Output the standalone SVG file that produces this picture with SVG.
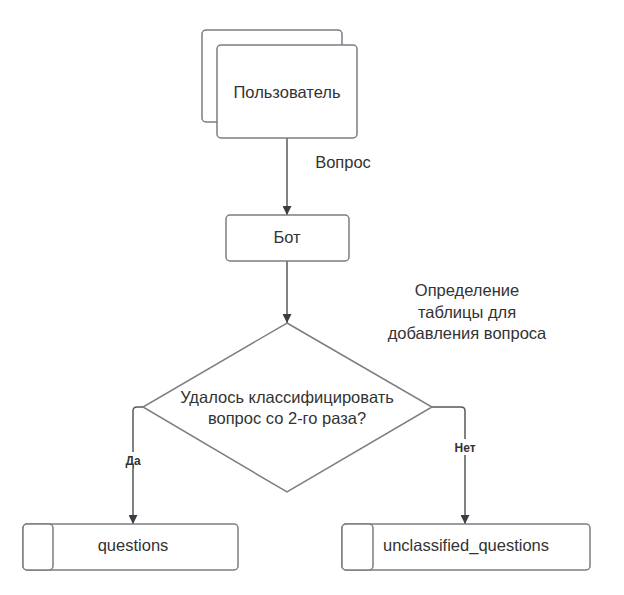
<svg xmlns="http://www.w3.org/2000/svg" width="624" height="595" viewBox="0 0 624 595">
<style>
.box{fill:#fff;stroke:#7a7d82;stroke-width:1.5}
.t{font-family:"Liberation Sans",Arial,sans-serif;font-size:16.5px;fill:#333;text-anchor:middle}
.lbl{font-family:"Liberation Sans",Arial,sans-serif;font-size:12px;font-weight:bold;fill:#333;text-anchor:middle}
.ln{fill:none;stroke:#55585c;stroke-width:1.5}
</style>
<defs>
<marker id="arr" viewBox="0 0 10 10" refX="10" refY="5" markerWidth="9" markerHeight="9" markerUnits="userSpaceOnUse" orient="auto">
<path d="M0,0 L10,5 L0,10 z" fill="#3a3d42"/>
</marker>
</defs>
<rect width="624" height="595" fill="#fff"/>
<g id="connectors">
<path class="ln" d="M287,138 V215" marker-end="url(#arr)"/>
<path class="ln" d="M287,261 V323" marker-end="url(#arr)"/>
<path class="ln" d="M143,407 H137 Q133,407 133,411 V524" marker-end="url(#arr)"/>
<path class="ln" d="M432,407 H461 Q465,407 465,411 V524" marker-end="url(#arr)"/>
<rect x="119" y="452" width="28" height="16" fill="#fff"/>
<text class="lbl" x="133" y="465">Да</text>
<rect x="449" y="439" width="32" height="16" fill="#fff"/>
<text class="lbl" x="465" y="452">Нет</text>
<text class="t" x="343" y="168">Вопрос</text>
<text class="t" x="467" y="296">Определение</text>
<text class="t" x="467" y="318">таблицы для</text>
<text class="t" x="467" y="339">добавления вопроса</text>
</g>
<g id="user">
<rect class="box" x="202" y="30" width="140" height="92" rx="4"/>
<rect class="box" x="217" y="45" width="140" height="93" rx="4"/>
<text class="t" x="287" y="98">Пользователь</text>
</g>
<g id="bot">
<rect class="box" x="226" y="215" width="123" height="46" rx="4"/>
<text class="t" x="287" y="243">Бот</text>
</g>
<g id="decision">
<path class="box" d="M287,323 L432,407 L287,492 L143,407 Z"/>
<text class="t" x="287" y="403">Удалось классифицировать</text>
<text class="t" x="287" y="424">вопрос со 2-го раза?</text>
</g>
<g id="questions">
<rect class="box" x="23" y="524" width="215" height="46" rx="4"/>
<rect class="box" x="23" y="524" width="30" height="46" rx="4"/>
<text class="t" x="133" y="551">questions</text>
</g>
<g id="unclassified">
<rect class="box" x="342" y="524" width="248" height="46" rx="4"/>
<rect class="box" x="342" y="524" width="31" height="46" rx="4"/>
<text class="t" x="466" y="551">unclassified_questions</text>
</g>
</svg>
